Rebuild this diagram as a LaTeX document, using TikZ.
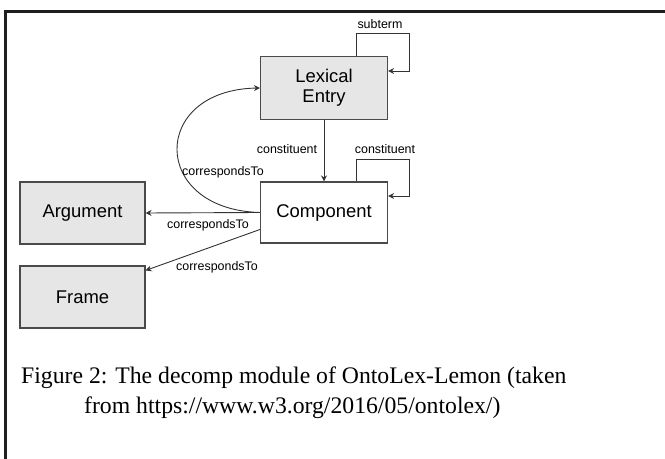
\documentclass[tikz,border=0pt]{standalone}
\usepackage{fontspec}
\setmainfont{Liberation Serif}
\newfontfamily\hv{Liberation Sans}
\usetikzlibrary{arrows.meta}
\definecolor{boxfill}{HTML}{E6E6E6}
\definecolor{boxline}{HTML}{4A4A4A}
\definecolor{edgecol}{HTML}{333333}
\tikzset{
  entity/.style={draw=boxline, line width=1.1bp, minimum width=127bp, inner sep=0pt, align=center, font=\hv\fontsize{18.5}{20}\selectfont, text=black},
  grayent/.style={entity, fill=boxfill},
  arr/.style={draw=edgecol, line width=0.9bp, -{Stealth[length=6bp,width=6bp]}},
  elabel/.style={font=\hv\fontsize{12.5}{13}\selectfont, inner sep=0pt, text=black},
  capt/.style={font=\fontsize{23.8}{29}\selectfont, anchor=base west, inner sep=0pt, text=black}
}
\begin{document}
\begin{tikzpicture}[x=1bp,y=-1bp]
\useasboundingbox (0,0) rectangle (665,459);
% page border lines
\draw[line width=2.2bp, black!88] (665,11.5) -- (5.5,11.5) -- (5.5,459);
% boxes
\node[grayent, minimum height=63bp] (lex) at (324,88) {Lexical\\Entry};
\node[entity, fill=white, minimum height=61bp] (comp) at (324,212.5) {Component};
\node[grayent, minimum width=125bp, minimum height=62bp] (arg) at (82.5,213) {Argument};
\node[grayent, minimum width=125bp, minimum height=62bp] (frame) at (82.5,297) {Frame};
% subterm loop
\draw[arr] ([xshift=-32bp]lex.north east) -- ++(0,-22) -- ++(53,0) |- ([yshift=17bp]lex.east);
\node[elabel] (lsub) at (380,24) {subterm};
% constituent
\draw[arr] (lex.south) -- (comp.north);
\node[elabel] (lcon) at (287,149) {constituent};
% constituent loop
\draw[arr] ([xshift=-32bp]comp.north east) -- ++(0,-22) -- ++(53,0) |- ([yshift=16.5bp]comp.east);
\node[elabel] (lcon2) at (385,149) {constituent};
% correspondsTo curve to lexical entry
\draw[arr] (comp.west) .. controls +(-110,-3) and +(-110,2) .. (lex.west);
\node[elabel] (lc1) at (223,172) {correspondsTo};
% correspondsTo to argument
\draw[arr] (comp.west) -- (arg.east);
\node[elabel] (lc2) at (208,225) {correspondsTo};
% correspondsTo to frame
\draw[arr] ([yshift=-17bp]comp.west) -- ([yshift=-5bp]frame.north east);
\node[elabel] (lc3) at (217,267) {correspondsTo};
% caption
\node[capt] (cap1) at (21,383) {Figure 2: The decomp module of OntoLex-Lemon (taken};
\node[capt] (cap2) at (84,413) {from https://www.w3.org/2016/05/ontolex/)};
\end{tikzpicture}
\end{document}
